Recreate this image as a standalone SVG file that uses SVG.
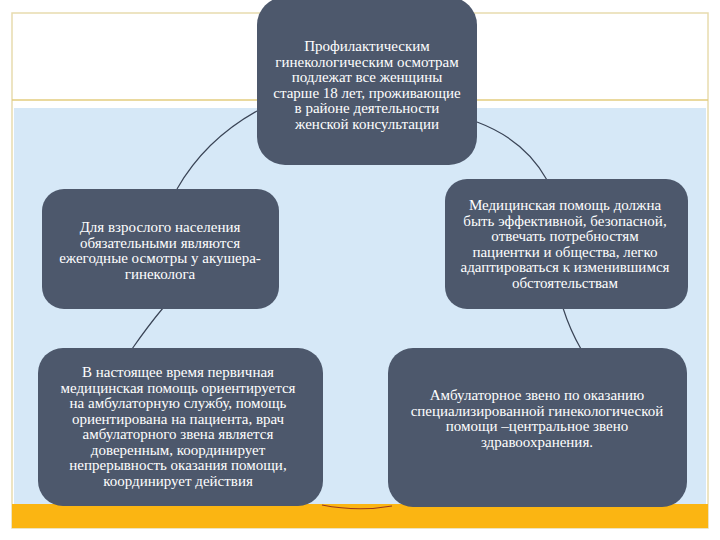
<svg xmlns="http://www.w3.org/2000/svg" width="720" height="540" viewBox="0 0 720 540">
<style>
.node{fill:#4d586c}
text{font-family:'Liberation Serif','DejaVu Serif','Times New Roman',serif;font-size:15px;fill:#ffffff;text-anchor:middle}
.arc{fill:none;stroke:#3a4456;stroke-width:1.2}
</style>
<rect x="0" y="0" width="720" height="540" fill="#ffffff"/>
<rect x="12" y="13" width="696" height="515" fill="#ffffff" stroke="#e8dcae" stroke-width="1.5"/>
<line x1="12" y1="100" x2="708" y2="100" stroke="#e3cd7e" stroke-width="1.5"/>
<rect x="14" y="108" width="692" height="396" fill="#d6e8f7"/>
<rect x="12" y="504" width="696" height="24" fill="#fbb512"/>
<g id="connectors">
<path class="arc" d="M257,111 Q205,140 177,189"/>
<path class="arc" d="M477,122 Q525,140 547,180"/>
<path class="arc" d="M163,308 Q148,326 132,349"/>
<path class="arc" d="M563,308 Q570,330 581,349"/>
<path class="arc" d="M322,505 Q358,512 392,506" style="stroke:#9a3a1c"/>
</g>
<g id="node-top">
<rect class="node" x="257" y="-3" width="220" height="168" rx="28"/>
<text x="367" y="51">Профилактическим</text>
<text x="367" y="66.5">гинекологическим осмотрам</text>
<text x="367" y="82">подлежат все женщины</text>
<text x="367" y="97.5">старше 18 лет, проживающие</text>
<text x="367" y="113">в районе деятельности</text>
<text x="367" y="128.5">женской консультации</text>
</g>
<g id="node-left">
<rect class="node" x="42" y="189" width="237" height="120" rx="22"/>
<text x="160" y="232">Для взрослого населения</text>
<text x="160" y="247.5">обязательными являются</text>
<text x="160" y="263">ежегодные осмотры у акушера-</text>
<text x="160" y="278.5">гинеколога</text>
</g>
<g id="node-right">
<rect class="node" x="445" y="179" width="243" height="130" rx="22"/>
<text x="565" y="210">Медицинская помощь должна</text>
<text x="565" y="225.5">быть эффективной, безопасной,</text>
<text x="565" y="241">отвечать потребностям</text>
<text x="565" y="256.5">пациентки и общества, легко</text>
<text x="565" y="272">адаптироваться к изменившимся</text>
<text x="565" y="287.5">обстоятельствам</text>
</g>
<g id="node-bottom-left">
<rect class="node" x="38" y="348" width="285" height="158" rx="25"/>
<text x="178" y="377">В настоящее время первичная</text>
<text x="178" y="392.5">медицинская помощь ориентируется</text>
<text x="178" y="408">на амбулаторную  службу, помощь</text>
<text x="178" y="423.5">ориентирована на пациента, врач</text>
<text x="178" y="439">амбулаторного звена является</text>
<text x="178" y="454.5">доверенным, координирует</text>
<text x="178" y="470">непрерывность оказания  помощи,</text>
<text x="178" y="485.5">координирует действия</text>
</g>
<g id="node-bottom-right">
<rect class="node" x="388" y="348" width="299" height="159" rx="25"/>
<text x="537" y="400">Амбулаторное звено по оказанию</text>
<text x="537" y="415.5">специализированной гинекологической</text>
<text x="537" y="431">помощи –центральное звено</text>
<text x="537" y="446.5">здравоохранения.</text>
</g>
</svg>
